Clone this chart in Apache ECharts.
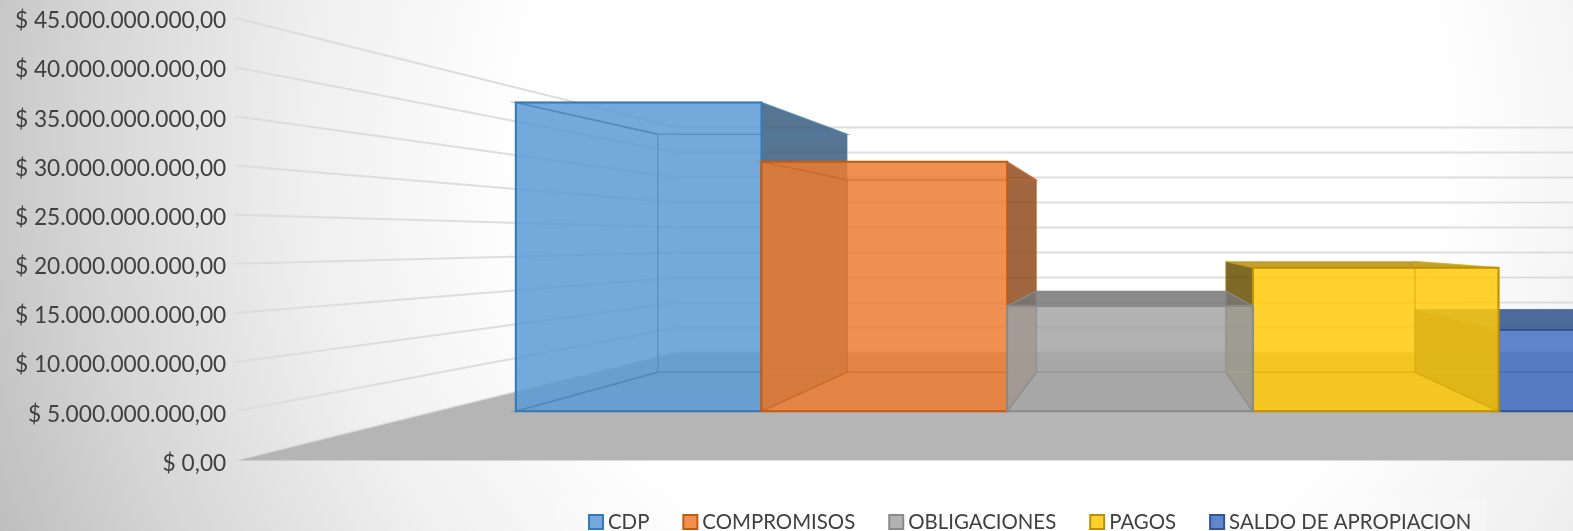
<!DOCTYPE html>
<html>
<head>
<meta charset="utf-8">
<style>html,body{margin:0;padding:0;background:#fff}#c{width:1573px;height:531px}</style>
<script src="https://cdn.jsdelivr.net/npm/echarts@6/dist/echarts.min.js"></script>
</head>
<body>
<div id="c"></div>
<script>
// ---- data ----
const categories = ['CDP', 'COMPROMISOS', 'OBLIGACIONES', 'PAGOS', 'SALDO DE APROPIACION'];
const values = [40480000000, 32700000000, 13800000000, 18800000000, 10660000000];
const axisTicks = [0, 5e9, 10e9, 15e9, 20e9, 25e9, 30e9, 35e9, 40e9, 45e9];
// ---- styling ----
const fills = ['#5B9BD5', '#ED7D31', '#A5A5A5', '#FFC90A', '#4472C4'];
const borders = ['#3579BA', '#C55A11', '#8A8A8A', '#BF9000', '#2F5597'];
const paintOrder = [0, 1, 4, 3, 2];

// perspective of the 3D box
const VX = 1134.6, VY = 240.8;      // vanishing point
const K_FRONT = 0.224, K_BACK = 0.402, K_WALL = 0.4916;
const WALL_X0 = 235, FAR_X = 2400;

function P(x, y, k) { return [x + (VX - x) * k, y + (VY - y) * k]; }
function rgb(hex) { return [1, 3, 5].map(i => parseInt(hex.substr(i, 2), 16)); }
function shade(hex, f, a) {
  const c = rgb(hex).map(v => Math.round(v * f));
  return 'rgba(' + c.join(',') + ',' + a + ')';
}
function poly(points, fill, stroke, lw) {
  return { type: 'polygon', silent: true, shape: { points },
    style: { fill: fill || 'none', stroke: stroke || 'none', lineWidth: lw || 0, lineJoin: 'miter' } };
}
function line(points, stroke, lw) {
  return { type: 'polyline', silent: true, shape: { points },
    style: { fill: 'none', stroke, lineWidth: lw } };
}

function barRender(ci) {
  return function (params, api) {
    const idx = api.value(0), val = api.value(1);
    const band = api.size([1, 0])[0];
    const cx = api.coord([idx, 0])[0];
    const y0 = api.coord([idx, 0])[1], y1 = api.coord([idx, val])[1];
    const xl = cx - band / 2, xr = cx + band / 2;
    const c = fills[ci], b = borders[ci];
    const F = [P(xl, y1, K_FRONT), P(xr, y1, K_FRONT), P(xr, y0, K_FRONT), P(xl, y0, K_FRONT)];
    const B = [P(xl, y1, K_BACK), P(xr, y1, K_BACK), P(xr, y0, K_BACK), P(xl, y0, K_BACK)];
    const ch = [];
    const hidden = [];
    const soft = shade(c, 0.85, 0.6);
    // side faces facing the viewer are shaded, the others are only outlined
    if (F[1][0] < VX) ch.push(poly([F[1], B[1], B[2], F[2]], shade(c, 0.6, 0.85), shade(b, 1, 0.5), 1));
    else hidden.push([F[1], B[1], B[2], F[2]]);
    if (F[0][0] > VX) ch.push(poly([F[0], B[0], B[3], F[3]], shade(c, 0.4, 0.85), shade(b, 1, 0.5), 1));
    else hidden.push([F[0], B[0], B[3], F[3]]);
    if (F[0][1] > VY) ch.push(poly([F[0], F[1], B[1], B[0]], shade(c, 0.71, 0.85), shade(b, 1, 0.6), 1));
    else hidden.push([F[0], F[1], B[1], B[0]]);
    hidden.push([F[3], F[2], B[2], B[3]]);
    ch.push(poly(F, shade(c, 1, 0.85)));
    hidden.forEach(h => ch.push(poly(h, null, soft, 1.5)));
    ch.push(poly(F, null, b, 2));
    return { type: 'group', children: ch };
  };
}

function floorRender(params, api) {
  const y0 = api.coord([0, 0])[1];
  const a = P(WALL_X0, y0, 0), w = P(WALL_X0, y0, K_WALL);
  return poly([[a[0] + 3, a[1]], w, [FAR_X, w[1]], [FAR_X, a[1]]], '#B5B5B5');
}
function gridRender(params, api) {
  const y = api.coord([0, api.value(0)])[1];
  const a = P(WALL_X0, y, 0), w = P(WALL_X0, y, K_WALL);
  return line([a, w, [FAR_X, w[1]]], '#DDDDDD', 2);
}

const series = [
  { type: 'custom', name: '_grid', coordinateSystem: 'cartesian2d', silent: true, z: 1,
    data: axisTicks.map(t => [t]), encode: { y: 0 }, renderItem: gridRender },
  { type: 'custom', name: '_floor', coordinateSystem: 'cartesian2d', silent: true, z: 2,
    data: [[0]], encode: { y: 0 }, renderItem: floorRender }
];
paintOrder.forEach((ci, n) => {
  series.push({
    type: 'custom', name: categories[ci], coordinateSystem: 'cartesian2d', silent: true, z: 3 + n,
    itemStyle: { color: fills[ci] },
    data: [[ci, values[ci]]], encode: { x: 0, y: 1 }, renderItem: barRender(ci)
  });
});

function money(v) {
  if (v === 0) return '$ 0,00';
  return '$ ' + String(Math.round(v)).replace(/\B(?=(\d{3})+$)/g, '.') + ',00';
}

const chart = echarts.init(document.getElementById('c'), null, { renderer: 'canvas' });
chart.setOption({
  animation: false,
  backgroundColor: {
    type: 'radial', x: 983, y: 143, r: 1060, global: true,
    colorStops: [
      { offset: 0, color: '#FFFFFF' }, { offset: 0.43, color: '#FFFFFF' },
      { offset: 0.645, color: '#EFEFEF' }, { offset: 0.843, color: '#D6D6D6' }, { offset: 1, color: '#BEBEBE' }
    ]
  },
  grid: { left: 337.2, top: 18, width: 1583, height: 442.5, containLabel: false, outerBoundsMode: 'none' },
  xAxis: { type: 'category', data: categories, show: false },
  yAxis: {
    type: 'value', min: 0, max: 45e9, interval: 5e9, offset: 111,
    axisLine: { show: false }, axisTick: { show: false }, splitLine: { show: false },
    axisLabel: { formatter: money, margin: 0, color: '#404040', fontFamily: 'Lato', fontSize: 22.7, lineHeight: 6, verticalAlign: 'top' }
  },
  legend: {
    show: true, left: 555, top: 498, padding: [14, 15, 0, 33],
    backgroundColor: 'rgba(255,255,255,0.2)',
    itemWidth: 14, itemHeight: 14, itemGap: 33,
    textStyle: { color: '#404040', fontFamily: 'Lato', fontSize: 20.4, padding: [2, 0, 0, 0] },
    selectedMode: false,
    data: categories.map((n, i) => ({
      name: n, icon: 'rect',
      itemStyle: { color: shade(fills[i], 1, 0.85), borderColor: borders[i], borderWidth: 2 }
    }))
  },
  series
});
</script>
</body>
</html>
